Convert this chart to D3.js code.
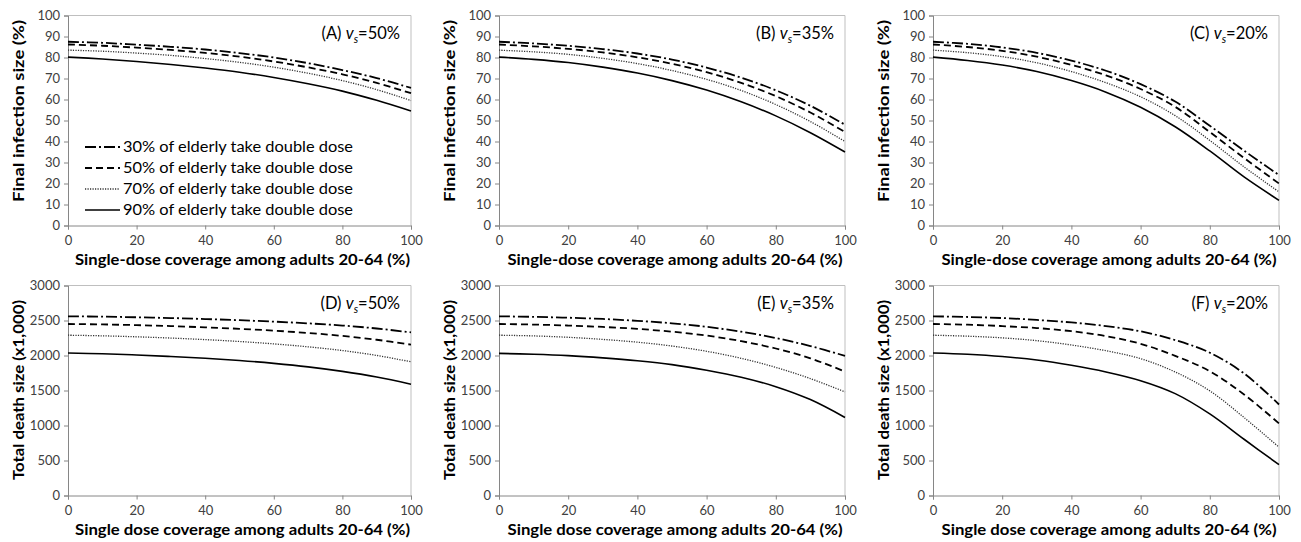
<!DOCTYPE html>
<html><head><meta charset="utf-8">
<script src="https://cdn.jsdelivr.net/npm/d3@7"></script>
<style>
body{margin:0;background:#fff;}
svg{display:block;font-family:Lato,"Open Sans",sans-serif;}
</style></head>
<body><svg id="c" width="1301" height="542"></svg>
<script>
// ---- data ----
const coverage = [0,10,20,30,40,50,60,70,80,90,100];
const xTicks = [0,20,40,60,80,100];
const yTicksInfection = [0,10,20,30,40,50,60,70,80,90,100];
const yTicksDeath = [0,500,1000,1500,2000,2500,3000];
const seriesNames = ["30% of elderly take double dose","50% of elderly take double dose","70% of elderly take double dose","90% of elderly take double dose"];
const panelLabels = ["(A)","(B)","(C)","(D)","(E)","(F)"];
const vsValues = ["50%","35%","20%","50%","35%","20%"];
const xTitleTop = "Single-dose coverage among adults 20-64 (%)";
const xTitleBottom = "Single dose coverage among adults 20-64 (%)";
const yTitleTop = "Final infection size (%)";
const yTitleBottom = "Total death size (x1,000)";

// infection, vs=50%
const infA30 = [87.5,87.0,86.1,85.1,83.8,82.1,80.0,77.3,74.0,70.2,65.5];
const infA50 = [86.2,85.6,84.7,83.6,82.2,80.4,78.1,75.3,72.0,67.9,63.0];
const infA70 = [83.5,83.0,82.1,81.0,79.5,77.7,75.4,72.5,69.0,64.7,59.5];
const infA90 = [80.2,79.3,78.1,76.7,75.0,73.0,70.5,67.5,64.0,59.6,54.5];
// infection, vs=35%
const infB30 = [87.5,86.7,85.6,84.0,81.9,79.0,75.2,70.4,64.4,57.0,48.0];
const infB50 = [86.2,85.3,84.1,82.4,80.1,77.0,73.0,67.9,61.6,53.8,44.5];
const infB70 = [83.5,82.7,81.5,79.6,77.1,73.8,69.6,64.3,57.6,49.5,40.0];
const infB90 = [80.2,79.1,77.6,75.4,72.6,69.0,64.5,58.9,52.2,44.2,35.0];
// infection, vs=20%
const infC30 = [87.5,86.5,84.8,82.2,78.5,73.7,67.3,59.0,47.5,35.5,24.0];
const infC50 = [86.2,85.0,83.2,80.4,76.5,71.5,65.0,56.5,44.5,32.0,20.0];
const infC70 = [83.5,82.3,80.4,77.5,73.3,68.0,61.3,52.3,40.5,27.8,16.0];
const infC90 = [80.2,78.6,76.4,73.3,69.0,63.5,56.3,47.0,35.5,23.0,12.0];
// deaths (x1,000), vs=50%
const deathD30 = [2560,2555,2546,2535,2521,2504,2484,2459,2428,2386,2330];
const deathD50 = [2450,2444,2434,2420,2402,2381,2355,2322,2280,2225,2155];
const deathD70 = [2290,2281,2267,2249,2227,2200,2166,2124,2071,2001,1910];
const deathD90 = [2035,2025,2008,1986,1960,1928,1888,1838,1773,1692,1590];
// deaths, vs=35%
const deathE30 = [2560,2552,2540,2522,2495,2460,2410,2340,2250,2135,1995];
const deathE50 = [2450,2442,2428,2408,2380,2340,2285,2205,2100,1960,1770];
const deathE70 = [2290,2280,2260,2230,2190,2135,2060,1960,1830,1670,1480];
const deathE90 = [2030,2018,1998,1966,1925,1870,1790,1690,1555,1370,1115];
// deaths, vs=20%
const deathF30 = [2560,2550,2535,2508,2472,2420,2345,2220,2040,1740,1300];
const deathF50 = [2450,2440,2420,2392,2347,2277,2167,1995,1775,1440,1030];
const deathF70 = [2290,2276,2252,2212,2150,2068,1955,1765,1495,1110,690];
const deathF90 = [2035,2017,1985,1935,1860,1765,1640,1455,1165,800,440];

// ---- layout ----
const svg = d3.select("#c");
const colX0 = [68,499,933], colX1 = [411,845,1279];
const rowY0 = [15.5,285.5], rowY1 = [225.5,495.5];
const dashes = ["11,3,2,3","7,4","1.2,1.3",null];
const widths = [1.8,1.8,1.3,1.6];
const colors = ["#000","#000","#333","#000"];

const panels = [
  {row:0,col:0,series:[infA30,infA50,infA70,infA90]},
  {row:0,col:1,series:[infB30,infB50,infB70,infB90]},
  {row:0,col:2,series:[infC30,infC50,infC70,infC90]},
  {row:1,col:0,series:[deathD30,deathD50,deathD70,deathD90]},
  {row:1,col:1,series:[deathE30,deathE50,deathE70,deathE90]},
  {row:1,col:2,series:[deathF30,deathF50,deathF70,deathF90]},
];

panels.forEach((p,i)=>{
  const x0=colX0[p.col], x1=colX1[p.col], y0=rowY0[p.row], y1=rowY1[p.row];
  const top = p.row===0;
  const yTicks = top? yTicksInfection : yTicksDeath;
  const x = d3.scaleLinear().domain([0,100]).range([x0,x1]);
  const y = d3.scaleLinear().domain([0, top?100:3000]).range([y1,y0]);
  const g = svg.append("g");

  // frame top/right
  g.append("path").attr("d",`M${x0},${y0}H${x1}V${y1}`).attr("fill","none").attr("stroke","#bfbfbf").attr("stroke-width",1);

  const ya = g.append("g").attr("transform",`translate(${x0},0)`)
    .call(d3.axisLeft(y).tickValues(yTicks).tickSize(4).tickPadding(4).tickFormat(d3.format("d")));
  const xa = g.append("g").attr("transform",`translate(0,${y1})`)
    .call(d3.axisBottom(x).tickValues(xTicks).tickSize(4).tickPadding(6).tickFormat(d3.format("d")));
  [ya,xa].forEach(a=>{
    a.select(".domain").attr("stroke","#868686");
    a.selectAll(".tick line").attr("stroke","#868686");
    a.selectAll("text").attr("fill","#404040").style("font-size","13px").style("font-family","Lato,sans-serif");
  });

  const line = d3.line().x((d,j)=>x(coverage[j])).y(d=>y(d)).curve(d3.curveCatmullRom.alpha(0.5));
  p.series.forEach((s,k)=>{
    g.append("path").datum(s).attr("d",line).attr("fill","none")
      .attr("stroke",colors[k]).attr("stroke-width",widths[k])
      .attr("stroke-dasharray",dashes[k]);
  });

  // panel label
  const lab = g.append("text").attr("x",x1-11).attr("y",y0+23).attr("text-anchor","end")
    .style("font-size","16.5px").attr("fill","#000");
  lab.append("tspan").text(panelLabels[i]+" ");
  lab.append("tspan").text("v").style("font-style","italic");
  lab.append("tspan").text("s").style("font-style","italic").style("font-size","11px").attr("dy",4);
  lab.append("tspan").text("="+vsValues[i]).attr("dy",-4);

  // axis titles
  g.append("text").attr("x",(x0+x1)/2+3).attr("y",y1+39).attr("text-anchor","middle")
    .style("font-size","15px").style("font-weight","bold")
    .attr("textLength",335).attr("lengthAdjust","spacingAndGlyphs")
    .text(top?xTitleTop:xTitleBottom);
  const yc = top? 111 : 390;
  g.append("text").attr("transform",`translate(${x0-44},${yc}) rotate(-90)`).attr("text-anchor","middle")
    .style("font-size","15px").style("font-weight","bold")
    .attr("textLength", top?182:180).attr("lengthAdjust","spacingAndGlyphs")
    .text(top?yTitleTop:yTitleBottom);

  // legend in panel A
  if(i===0){
    const ly=[147,168,189,210];
    seriesNames.forEach((n,k)=>{
      g.append("line").attr("x1",85).attr("x2",120).attr("y1",ly[k]).attr("y2",ly[k])
        .attr("stroke",colors[k]).attr("stroke-width",widths[k]).attr("stroke-dasharray",dashes[k]);
      g.append("text").attr("x",123).attr("y",ly[k]+5).style("font-size","14.5px")
        .attr("textLength",230).attr("lengthAdjust","spacingAndGlyphs").attr("fill","#000").text(n);
    });
  }
});
</script></body></html>
